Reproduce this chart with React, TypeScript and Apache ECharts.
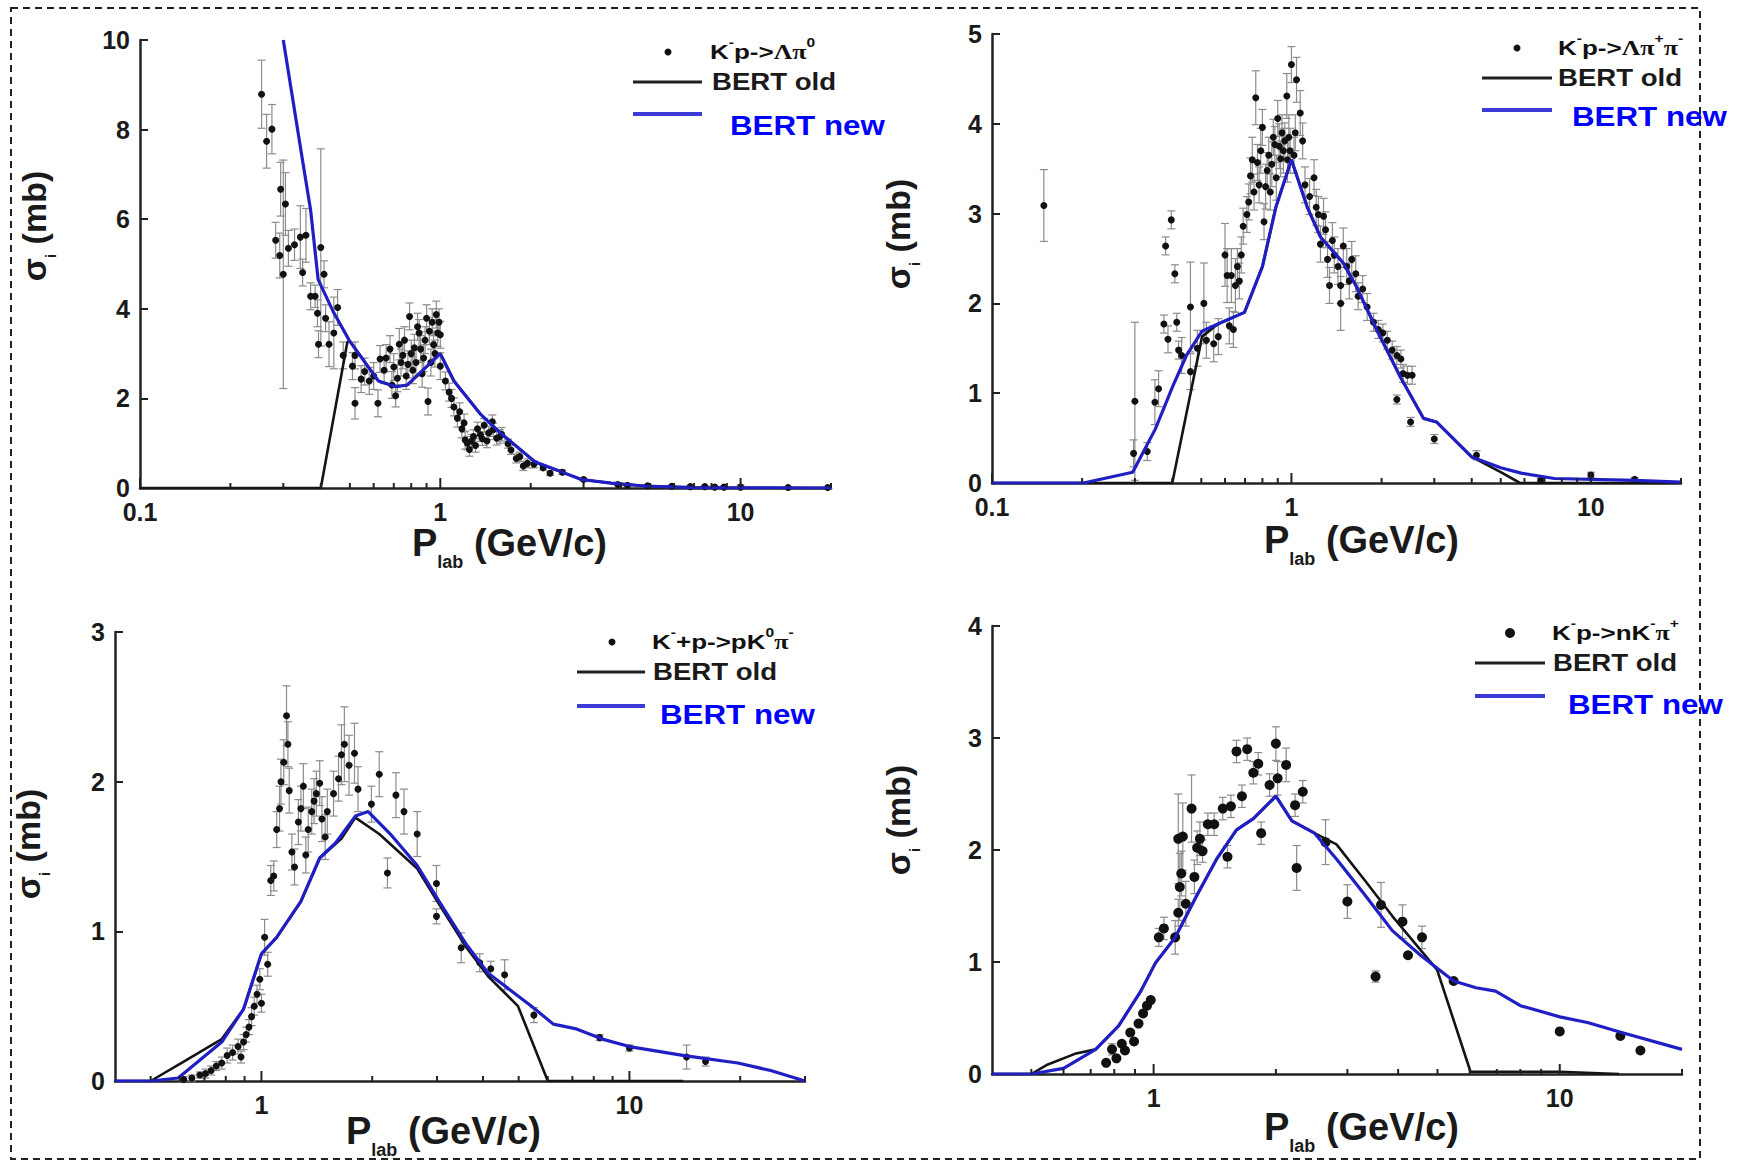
import React, { useEffect, useRef } from 'react';
import * as echarts from 'echarts';

// ---------- Panel 1: K- p -> Lambda pi0 ----------
const P1_POINTS: number[][] = [
  [0.254, 8.79, 0.76], [0.264, 7.74, 0.6], [0.275, 8.01, 0.55], [0.294, 6.67, 0.6], [0.305, 6.34, 0.7],
  [0.283, 5.53, 0.4], [0.292, 5.19, 0.5], [0.300, 4.77, 2.55], [0.312, 5.35, 0.4], [0.327, 5.43, 0.35],
  [0.342, 5.60, 0.7], [0.357, 5.64, 0.6], [0.348, 4.81, 0.3], [0.370, 4.28, 0.3], [0.383, 4.28, 0.25],
  [0.400, 5.37, 2.2], [0.410, 4.77, 0.3], [0.393, 3.21, 0.3], [0.426, 3.21, 0.5], [0.390, 3.90, 0.3],
  [0.415, 3.79, 0.3], [0.442, 3.46, 0.8], [0.455, 4.03, 0.4], [0.475, 2.96, 0.3], [0.520, 2.96, 0.3],
  [0.510, 2.72, 0.3], [0.520, 1.89, 0.35], [0.545, 2.43, 0.3], [0.560, 2.60, 0.3], [0.580, 2.39, 0.3],
  [0.600, 2.50, 0.3], [0.620, 1.89, 0.3], [0.630, 2.88, 0.3], [0.650, 2.63, 0.3], [0.660, 2.90, 0.3],
  [0.680, 3.10, 0.3], [0.690, 2.30, 0.3], [0.700, 2.70, 0.3], [0.710, 2.06, 0.25], [0.720, 2.45, 0.3],
  [0.730, 3.21, 0.35], [0.740, 2.80, 0.3], [0.750, 2.96, 0.3], [0.760, 3.30, 0.3], [0.770, 2.50, 0.3],
  [0.780, 2.76, 0.3], [0.790, 3.83, 0.3], [0.800, 3.00, 0.3], [0.810, 2.63, 0.3], [0.820, 3.13, 0.3],
  [0.830, 2.80, 0.3], [0.840, 3.60, 0.3], [0.850, 3.46, 0.3], [0.860, 3.10, 0.3], [0.870, 2.55, 0.3],
  [0.880, 2.90, 0.3], [0.890, 3.30, 0.3], [0.900, 3.79, 0.3], [0.910, 1.93, 0.3], [0.920, 3.50, 0.3],
  [0.930, 2.80, 0.3], [0.940, 3.70, 0.3], [0.950, 3.20, 0.3], [0.960, 3.00, 0.3], [0.970, 3.87, 0.3],
  [0.980, 3.46, 0.3], [0.990, 3.70, 0.3], [1.00, 3.42, 0.3], [1.00, 2.72, 0.3], [1.04, 2.39, 0.2],
  [1.07, 2.14, 0.2], [1.09, 2.00, 0.2], [1.11, 1.81, 0.2], [1.14, 1.56, 0.2], [1.16, 1.70, 0.2],
  [1.18, 1.32, 0.2], [1.20, 1.45, 0.2], [1.21, 1.07, 0.2], [1.23, 1.00, 0.15], [1.25, 0.86, 0.15],
  [1.27, 1.05, 0.15], [1.29, 1.15, 0.15], [1.31, 0.95, 0.15], [1.33, 1.32, 0.15], [1.36, 1.19, 0.15],
  [1.38, 1.10, 0.15], [1.40, 1.40, 0.15], [1.43, 1.05, 0.15], [1.45, 1.23, 0.15], [1.49, 1.48, 0.15],
  [1.50, 1.30, 0.15], [1.54, 1.11, 0.15], [1.58, 1.15, 0.15], [1.60, 1.20, 0.15], [1.68, 0.99, 0.1],
  [1.72, 0.85, 0.1], [1.79, 0.66, 0.1], [1.84, 0.70, 0.1], [1.89, 0.49, 0.1], [1.95, 0.55, 0.1],
  [2.05, 0.53, 0.08], [2.20, 0.45, 0.05], [2.32, 0.33, 0.05], [2.55, 0.35, 0.05], [3.0, 0.19, 0.03],
  [3.9, 0.08, 0.02], [4.2, 0.06, 0.02], [4.9, 0.05, 0.02], [5.9, 0.04, 0.02], [6.8, 0.03, 0.02],
  [7.6, 0.03, 0.02], [8.2, 0.02, 0.02], [8.8, 0.02, 0.02], [10.0, 0.02, 0.05], [14.4, 0.01, 0.01],
  [19.5, 0.01, 0.01],
];
const P1_OLD: number[][] = [
  [0.1, 0], [0.40, 0], [0.49, 3.25], [0.498, 3.29], [0.622, 2.39], [0.711, 2.26], [0.777, 2.30],
  [1.0, 3.0], [1.11, 2.39], [1.36, 1.65], [1.585, 1.23], [2.07, 0.58], [2.53, 0.36], [2.95, 0.19],
  [3.7, 0.11], [4.8, 0.045], [7.0, 0.01], [20, 0],
];
const P1_NEW: number[][] = [
  [0.30, 10.0], [0.348, 7.3], [0.37, 6.2], [0.392, 4.65], [0.442, 3.91], [0.498, 3.29], [0.622, 2.39],
  [0.711, 2.26], [0.777, 2.30], [1.0, 3.0], [1.11, 2.39], [1.36, 1.65], [1.585, 1.23], [2.07, 0.58],
  [2.53, 0.36], [2.95, 0.19], [3.7, 0.11], [4.8, 0.045], [7.0, 0.01], [20, 0.0],
];

// ---------- Panel 2: K- p -> Lambda pi+ pi- ----------
const P2_POINTS: number[][] = [
  [0.149, 3.09, 0.4], [0.297, 0.33, 0.15], [0.300, 0.91, 0.88], [0.330, 0.35, 0.1], [0.350, 0.90, 0.25],
  [0.360, 1.05, 0.2], [0.375, 1.77, 0.1], [0.387, 1.60, 0.15], [0.380, 2.64, 0.1], [0.397, 2.93, 0.1],
  [0.408, 2.33, 0.1], [0.420, 1.48, 0.1], [0.430, 1.42, 0.2], [0.414, 1.79, 0.1], [0.460, 1.96, 0.5],
  [0.460, 1.24, 0.2], [0.485, 1.50, 0.2], [0.510, 2.00, 0.45], [0.520, 1.59, 0.2], [0.550, 1.55, 0.2],
  [0.570, 1.63, 0.2], [0.600, 2.54, 0.35], [0.610, 2.31, 0.3], [0.620, 1.75, 0.2], [0.630, 2.31, 0.3],
  [0.640, 1.71, 0.2], [0.650, 2.20, 0.3], [0.660, 2.41, 0.2], [0.670, 2.25, 0.2], [0.680, 2.54, 0.2],
  [0.690, 2.86, 0.2], [0.710, 2.99, 0.2], [0.720, 3.13, 0.2], [0.730, 3.42, 0.2], [0.740, 3.60, 0.25],
  [0.750, 3.24, 0.2], [0.760, 4.29, 0.3], [0.770, 3.57, 0.2], [0.780, 3.32, 0.2], [0.790, 3.70, 0.25],
  [0.800, 3.96, 0.2], [0.810, 2.91, 0.2], [0.820, 3.30, 0.25], [0.830, 3.48, 0.2], [0.840, 3.65, 0.2],
  [0.850, 3.24, 0.2], [0.860, 3.55, 0.25], [0.870, 3.85, 0.2], [0.880, 3.77, 0.2], [0.890, 3.40, 0.25],
  [0.900, 4.06, 0.2], [0.910, 3.75, 0.25], [0.920, 3.61, 0.2], [0.930, 3.90, 0.2], [0.940, 3.70, 0.25],
  [0.950, 3.81, 0.2], [0.965, 4.31, 0.25], [0.970, 3.60, 0.25], [0.980, 3.85, 0.25], [0.990, 3.70, 0.25],
  [1.00, 4.66, 0.2], [1.02, 3.65, 0.2], [1.03, 3.90, 0.2], [1.04, 4.49, 0.25], [1.07, 4.12, 0.25],
  [1.09, 3.81, 0.2], [1.11, 3.32, 0.2], [1.15, 3.19, 0.2], [1.19, 3.40, 0.2], [1.21, 3.07, 0.2],
  [1.23, 2.99, 0.2], [1.25, 2.66, 0.2], [1.28, 2.97, 0.2], [1.30, 2.82, 0.2], [1.32, 2.49, 0.2],
  [1.34, 2.20, 0.2], [1.37, 2.70, 0.2], [1.39, 2.54, 0.2], [1.43, 2.41, 0.2], [1.46, 2.20, 0.2],
  [1.46, 2.00, 0.3], [1.49, 2.64, 0.2], [1.53, 2.41, 0.2], [1.56, 2.25, 0.2], [1.59, 2.49, 0.2],
  [1.64, 2.33, 0.2], [1.67, 2.08, 0.15], [1.73, 2.16, 0.15], [1.79, 1.96, 0.15], [1.88, 1.79, 0.1],
  [1.95, 1.71, 0.1], [2.02, 1.67, 0.1], [2.09, 1.59, 0.1], [2.17, 1.48, 0.1], [2.25, 1.42, 0.1],
  [2.32, 1.38, 0.1], [2.36, 1.22, 0.1], [2.44, 1.20, 0.1], [2.53, 1.20, 0.1], [2.25, 0.93, 0.05],
  [2.50, 0.68, 0.05], [3.00, 0.49, 0.05], [4.15, 0.31, 0.05], [6.8, 0.03, 0.02], [10.0, 0.09, 0.03],
  [14.0, 0.04, 0.02],
];
const P2_OLD: number[][] = [
  [0.1, 0], [0.40, 0], [0.503, 1.63], [0.568, 1.77], [0.697, 1.9], [0.8, 2.41], [0.887, 3.07],
  [1.0, 3.6], [1.13, 3.07], [1.25, 2.74], [1.49, 2.45], [1.64, 2.2], [1.95, 1.67], [2.32, 1.17],
  [2.76, 0.72], [3.05, 0.68], [4.0, 0.29], [5.0, 0.12], [5.8, 0], [20, 0],
];
const P2_NEW: number[][] = [
  [0.1, 0], [0.202, 0], [0.295, 0.12], [0.351, 0.6], [0.403, 1.09], [0.446, 1.42], [0.503, 1.69],
  [0.568, 1.77], [0.697, 1.9], [0.8, 2.41], [0.887, 3.07], [1.0, 3.6], [1.13, 3.07], [1.25, 2.74],
  [1.49, 2.45], [1.64, 2.2], [1.95, 1.67], [2.32, 1.17], [2.76, 0.72], [3.05, 0.68], [4.0, 0.29],
  [5.0, 0.17], [5.85, 0.11], [7.55, 0.05], [14, 0.03], [20, 0.01],
];

// ---------- Panel 3: K- + p -> p K0 pi- ----------
const P3_POINTS: number[][] = [
  [0.615, 0.01, 0.02], [0.647, 0.02, 0.02], [0.68, 0.04, 0.02], [0.705, 0.05, 0.03], [0.73, 0.07, 0.03],
  [0.754, 0.10, 0.03], [0.78, 0.12, 0.04], [0.807, 0.17, 0.05], [0.835, 0.19, 0.05], [0.864, 0.23, 0.05],
  [0.88, 0.16, 0.04], [0.894, 0.26, 0.05], [0.909, 0.31, 0.05], [0.925, 0.36, 0.05], [0.94, 0.43, 0.06],
  [0.956, 0.50, 0.06], [0.973, 0.58, 0.06], [0.99, 0.68, 0.07], [1.0, 0.52, 0.06], [1.02, 0.96, 0.12],
  [1.04, 0.78, 0.08], [1.06, 1.34, 0.1], [1.08, 1.37, 0.1], [1.10, 1.68, 0.12], [1.12, 1.82, 0.15],
  [1.13, 2.0, 0.15], [1.15, 2.13, 0.15], [1.17, 2.44, 0.2], [1.18, 2.25, 0.15], [1.19, 1.94, 0.15],
  [1.21, 1.53, 0.12], [1.23, 1.43, 0.12], [1.26, 1.73, 0.15], [1.28, 1.82, 0.15], [1.30, 1.97, 0.15],
  [1.32, 1.51, 0.12], [1.34, 1.68, 0.15], [1.37, 1.80, 0.15], [1.39, 1.87, 0.15], [1.41, 1.92, 0.15],
  [1.44, 1.99, 0.15], [1.46, 1.75, 0.15], [1.49, 1.63, 0.15], [1.51, 1.80, 0.15], [1.57, 1.92, 0.15],
  [1.62, 2.02, 0.15], [1.65, 2.18, 0.2], [1.68, 2.25, 0.25], [1.73, 2.11, 0.2], [1.79, 2.19, 0.2],
  [1.83, 1.95, 0.15], [1.99, 1.85, 0.12], [2.09, 2.05, 0.15], [2.20, 1.39, 0.1], [2.32, 1.91, 0.15],
  [2.44, 1.80, 0.15], [2.65, 1.65, 0.15], [2.99, 1.32, 0.12], [2.99, 1.10, 0.05], [3.49, 0.89, 0.1],
  [3.92, 0.79, 0.06], [4.20, 0.75, 0.05], [4.58, 0.71, 0.1], [5.50, 0.44, 0.05], [8.30, 0.29, 0.02],
  [10.0, 0.22, 0.02], [14.3, 0.16, 0.08], [16.1, 0.13, 0.03],
];
const P3_OLD: number[][] = [
  [0.4, 0], [0.5, 0], [0.615, 0.13], [0.78, 0.28], [0.894, 0.48], [1.0, 0.85], [1.1, 0.96],
  [1.28, 1.2], [1.44, 1.49], [1.6, 1.59], [1.65, 1.62], [1.8, 1.76], [2.09, 1.65], [2.65, 1.42],
  [3.04, 1.18], [3.61, 0.89], [4.13, 0.7], [4.98, 0.5], [6.0, 0], [14, 0],
];
const P3_NEW: number[][] = [
  [0.4, 0], [0.5, 0], [0.594, 0.02], [0.78, 0.26], [0.894, 0.48], [1.0, 0.85], [1.1, 0.96],
  [1.28, 1.2], [1.44, 1.49], [1.59, 1.59], [1.8, 1.77], [1.95, 1.8], [2.24, 1.65], [2.65, 1.44],
  [3.04, 1.2], [3.61, 0.91], [4.13, 0.72], [4.73, 0.61], [5.42, 0.5], [6.21, 0.38], [7.12, 0.35],
  [8.44, 0.28], [10, 0.23], [14.1, 0.17], [19.7, 0.12], [24.2, 0.07], [30, 0],
];

// ---------- Panel 4: K- p -> n K- pi+ ----------
const P4_POINTS: number[][] = [
  [0.764, 0.10, 0], [0.79, 0.22, 0.05], [0.81, 0.14, 0], [0.835, 0.27, 0], [0.85, 0.21, 0],
  [0.876, 0.37, 0], [0.895, 0.29, 0], [0.918, 0.45, 0], [0.942, 0.54, 0], [0.963, 0.61, 0],
  [0.984, 0.66, 0], [1.03, 1.22, 0.08], [1.06, 1.30, 0.1], [1.13, 1.22, 0.15], [1.15, 1.44, 0.12],
  [1.15, 2.10, 0.4], [1.16, 1.67, 0.3], [1.17, 1.79, 0.2], [1.18, 2.12, 0.3], [1.20, 1.52, 0.2],
  [1.24, 2.37, 0.3], [1.26, 1.76, 0.15], [1.28, 2.02, 0.15], [1.30, 2.10, 0.15], [1.32, 1.99, 0.1],
  [1.36, 2.23, 0.1], [1.41, 2.23, 0.1], [1.48, 2.37, 0.1], [1.52, 1.94, 0.1], [1.55, 2.39, 0.1],
  [1.60, 2.88, 0.1], [1.65, 2.48, 0.1], [1.70, 2.90, 0.1], [1.76, 2.69, 0.1], [1.81, 2.77, 0.1],
  [1.84, 2.15, 0.1], [1.93, 2.58, 0.1], [2.00, 2.95, 0.15], [2.02, 2.64, 0.15], [2.12, 2.76, 0.15],
  [2.23, 2.40, 0.1], [2.33, 2.52, 0.1], [2.25, 1.84, 0.2], [2.65, 2.07, 0.2], [3.00, 1.54, 0.15],
  [3.52, 0.87, 0.05], [3.63, 1.51, 0.2], [4.10, 1.36, 0.15], [4.23, 1.06, 0], [4.58, 1.22, 0.1],
  [5.48, 0.83, 0], [10.0, 0.38, 0], [14.1, 0.34, 0], [15.8, 0.21, 0],
];
const P4_OLD: number[][] = [
  [0.4, 0], [0.5, 0], [0.545, 0.08], [0.64, 0.18], [0.72, 0.22], [0.82, 0.43], [0.93, 0.74],
  [1.01, 0.99], [1.13, 1.22], [1.28, 1.6], [1.43, 1.92], [1.6, 2.18], [1.76, 2.28], [2.0, 2.48],
  [2.19, 2.26], [2.49, 2.15], [2.82, 2.05], [3.31, 1.73], [3.87, 1.41], [4.99, 0.93], [6.03, 0.02],
  [10, 0.02], [14, 0],
];
const P4_NEW: number[][] = [
  [0.4, 0], [0.5, 0], [0.6, 0.05], [0.72, 0.22], [0.82, 0.43], [0.93, 0.74], [1.01, 0.99],
  [1.13, 1.22], [1.28, 1.6], [1.43, 1.92], [1.6, 2.18], [1.76, 2.28], [2.0, 2.48], [2.19, 2.26],
  [2.49, 2.15], [2.82, 1.92], [3.31, 1.6], [3.87, 1.28], [4.54, 1.06], [5.48, 0.83], [6.22, 0.77],
  [6.95, 0.74], [8.0, 0.61], [10, 0.51], [11.7, 0.46], [14.2, 0.37], [20, 0.22],
];

// ---------- Axis ticks ----------
const MAJOR_TICKS_A = [0.1, 1, 10];
const MINOR_TICKS_A = [0.2, 0.3, 0.4, 0.5, 0.6, 0.7, 0.8, 0.9, 2, 3, 4, 5, 6, 7, 8, 9, 20];
const MAJOR_TICKS_B = [1, 10];
const MINOR_TICKS_B = [0.5, 0.6, 0.7, 0.8, 0.9, 2, 3, 4, 5, 6, 7, 8, 9, 20, 30];
const MINOR_TICKS_C = [0.5, 0.6, 0.7, 0.8, 0.9, 2, 3, 4, 5, 6, 7, 8, 9, 20];

// ---------- Legend labels ----------
const LABEL_1 = '{t|K}{u|-}{t|p->}{g|Λπ}{u|0}';
const LABEL_2 = '{t|K}{u|-}{t|p->}{g|Λπ}{u|+}{g|π}{u|-}';
const LABEL_3 = '{t|K}{u|-}{t|+p->pK}{u|0}{g|π}{u|-}';
const LABEL_4 = '{t|K}{u|-}{t|p->nK}{u|-}{g|π}{u|+}';

const FONT = 'Liberation Sans, Arial, sans-serif';
const BLUE = '#1f1fc4';
const INK = '#111111';

type Panel = {
  box: number[]; xMin: number; xMax: number; yMax: number; yInt: number;
  points: number[][]; old: number[][]; neu: number[][]; majors: number[]; minors: number[];
  dotSize: number;
  legend: { dot: number[]; dotR: number; label: string; lx: number; lineX: number[]; oldY: number; oldX: number; newY: number; newX: number; newTextY: number };
  xTitle: number[]; yTitle: number[];
};

const PANELS: Panel[] = [
  {
    box: [140, 40, 691, 448], xMin: 0.1, xMax: 20, yMax: 10, yInt: 2,
    points: P1_POINTS, old: P1_OLD, neu: P1_NEW, majors: MAJOR_TICKS_A, minors: MINOR_TICKS_A, dotSize: 7,
    legend: { dot: [668, 52], dotR: 3.5, label: LABEL_1, lx: 710, lineX: [633, 702], oldY: 82, oldX: 712, newY: 114, newX: 730, newTextY: 126 },
    xTitle: [412, 543], yTitle: [34, 226],
  },
  {
    box: [992, 34, 689, 449], xMin: 0.1, xMax: 20, yMax: 5, yInt: 1,
    points: P2_POINTS, old: P2_OLD, neu: P2_NEW, majors: MAJOR_TICKS_A, minors: MINOR_TICKS_A, dotSize: 7,
    legend: { dot: [1517, 48], dotR: 3.5, label: LABEL_2, lx: 1558, lineX: [1482, 1552], oldY: 78, oldX: 1558, newY: 110, newX: 1572, newTextY: 117 },
    xTitle: [1264, 540], yTitle: [898, 234],
  },
  {
    box: [115, 632, 690, 449], xMin: 0.4, xMax: 30, yMax: 3, yInt: 1,
    points: P3_POINTS, old: P3_OLD, neu: P3_NEW, majors: MAJOR_TICKS_B, minors: MINOR_TICKS_B, dotSize: 7,
    legend: { dot: [612, 642], dotR: 3.5, label: LABEL_3, lx: 652, lineX: [577, 645], oldY: 672, oldX: 653, newY: 706, newX: 660, newTextY: 715 },
    xTitle: [346, 1131], yTitle: [28, 844],
  },
  {
    box: [992, 626, 690, 448], xMin: 0.4, xMax: 20, yMax: 4, yInt: 1,
    points: P4_POINTS, old: P4_OLD, neu: P4_NEW, majors: MAJOR_TICKS_B, minors: MINOR_TICKS_C, dotSize: 10,
    legend: { dot: [1510, 633], dotR: 5, label: LABEL_4, lx: 1552, lineX: [1475, 1545], oldY: 663, oldX: 1553, newY: 696, newX: 1568, newTextY: 705 },
    xTitle: [1264, 1127], yTitle: [898, 820],
  },
];

const logLabel = (v: number) => {
  const l = Math.log10(v);
  if (Math.abs(l - Math.round(l)) > 1e-6) return '';
  const r = Math.round(l);
  return r < 0 ? Math.pow(10, r).toFixed(-r) : String(Math.round(Math.pow(10, r)));
};

const errRender = (_p: any, api: any) => {
  const x = api.value(0), y = api.value(1), e = api.value(2);
  if (!(e > 0)) return { type: 'group', children: [] };
  const top = api.coord([x, y + e]);
  const bot = api.coord([x, Math.max(y - e, 0)]);
  const c = 4;
  const st = { stroke: '#8c8c8c', lineWidth: 1.2 };
  return {
    type: 'group',
    children: [
      { type: 'line', shape: { x1: top[0], y1: top[1], x2: bot[0], y2: bot[1] }, style: st },
      { type: 'line', shape: { x1: top[0] - c, y1: top[1], x2: top[0] + c, y2: top[1] }, style: st },
      { type: 'line', shape: { x1: bot[0] - c, y1: bot[1], x2: bot[0] + c, y2: bot[1] }, style: st },
    ],
  };
};

const tickRender = (len: number) => (_p: any, api: any) => {
  const p = api.coord([api.value(0), 0]);
  return { type: 'line', shape: { x1: p[0], y1: p[1], x2: p[0], y2: p[1] - len }, style: { stroke: '#222', lineWidth: 2 } };
};

function buildGraphic(): any[] {
  const g: any[] = [];
  g.push({
    type: 'rect', shape: { x: 11, y: 8, width: 1689, height: 1151 },
    style: { fill: 'none', stroke: '#222', lineWidth: 2, lineDash: [7, 5] }, silent: true,
  });
  PANELS.forEach((p) => {
    const L = p.legend;
    g.push({ type: 'circle', shape: { cx: L.dot[0], cy: L.dot[1], r: L.dotR }, style: { fill: INK } });
    g.push({
      type: 'text', x: L.lx, y: L.dot[1], scaleX: 1.3,
      style: {
        text: L.label, x: 0, y: 0, align: 'left', verticalAlign: 'middle',
        rich: {
          t: { fontFamily: FONT, fontWeight: 'bold', fontSize: 20, fill: INK, lineHeight: 30, verticalAlign: 'middle' },
          g: { fontFamily: 'Liberation Serif, serif', fontWeight: 'bold', fontSize: 20, fill: INK, lineHeight: 30, verticalAlign: 'middle' },
          u: { fontFamily: FONT, fontWeight: 'bold', fontSize: 12, fill: INK, lineHeight: 12, verticalAlign: 'top' },
        },
      },
    });
    g.push({ type: 'line', shape: { x1: L.lineX[0], y1: L.oldY, x2: L.lineX[1], y2: L.oldY }, style: { stroke: '#202020', lineWidth: 3 } });
    g.push({
      type: 'text', x: L.oldX, y: L.oldY, scaleX: 1.2,
      style: { text: 'BERT old', x: 0, y: 0, align: 'left', verticalAlign: 'middle', fontFamily: FONT, fontWeight: 'bold', fontSize: 23, fill: '#1a1a1a' },
    });
    g.push({ type: 'line', shape: { x1: L.lineX[0], y1: L.newY, x2: L.lineX[1], y2: L.newY }, style: { stroke: '#3b3bd8', lineWidth: 4 } });
    g.push({
      type: 'text', x: L.newX, y: L.newTextY, scaleX: 1.16,
      style: { text: 'BERT new', x: 0, y: 0, align: 'left', verticalAlign: 'middle', fontFamily: FONT, fontWeight: 'bold', fontSize: 27, fill: '#0000ff' },
    });
    // x title
    g.push({
      type: 'text', x: p.xTitle[0], y: p.xTitle[1],
      style: {
        text: '{p|P}{s|lab}{p| (GeV/c)}', x: 0, y: 0, align: 'left', verticalAlign: 'middle',
        rich: {
          p: { fontFamily: FONT, fontWeight: 'bold', fontSize: 38, fill: '#1a1a1a', lineHeight: 56, verticalAlign: 'middle' },
          s: { fontFamily: FONT, fontWeight: 'bold', fontSize: 18, fill: '#1a1a1a', lineHeight: 18, verticalAlign: 'bottom' },
        },
      },
    });
    // y title
    g.push({
      type: 'text', x: p.yTitle[0], y: p.yTitle[1], rotation: Math.PI / 2,
      style: {
        text: '{p|σ}{s|i}{p| (mb)}', x: 0, y: 0, align: 'center', verticalAlign: 'middle',
        rich: {
          p: { fontFamily: FONT, fontWeight: 'bold', fontSize: 34, fill: '#1a1a1a', lineHeight: 48, verticalAlign: 'middle' },
          s: { fontFamily: FONT, fontWeight: 'bold', fontSize: 15, fill: '#1a1a1a', lineHeight: 15, verticalAlign: 'bottom' },
        },
      },
    });
  });
  return g;
}

function buildOption(): any {
  const axisLine = { show: true, onZero: false, lineStyle: { color: '#222', width: 2.5 } };
  const series: any[] = [];
  PANELS.forEach((p, i) => {
    series.push({
      type: 'custom', xAxisIndex: i, yAxisIndex: i, renderItem: errRender, silent: true,
      encode: { x: 0, y: 1 }, data: p.points, z: 2,
    });
    series.push({
      type: 'scatter', xAxisIndex: i, yAxisIndex: i, data: p.points.map((d) => [d[0], d[1]]),
      symbol: 'circle', symbolSize: p.dotSize, itemStyle: { color: INK, opacity: 1 }, silent: true, z: 3,
    });
    series.push({
      type: 'line', xAxisIndex: i, yAxisIndex: i, data: p.old, showSymbol: false, symbol: 'none',
      lineStyle: { color: '#141414', width: 2.6 }, silent: true, z: 4,
    });
    series.push({
      type: 'line', xAxisIndex: i, yAxisIndex: i, data: p.neu, showSymbol: false, symbol: 'none',
      lineStyle: { color: BLUE, width: 3.2 }, silent: true, z: 5,
    });
    series.push({
      type: 'custom', xAxisIndex: i, yAxisIndex: i, renderItem: tickRender(5), silent: true,
      encode: { x: 0, y: 1 }, data: p.minors.map((v) => [v, 0]), z: 6,
    });
    series.push({
      type: 'custom', xAxisIndex: i, yAxisIndex: i, renderItem: tickRender(10), silent: true,
      encode: { x: 0, y: 1 }, data: p.majors.map((v) => [v, 0]), z: 6,
    });
  });
  return {
    animation: false,
    backgroundColor: '#ffffff',
    grid: PANELS.map((p) => ({ left: p.box[0], top: p.box[1], width: p.box[2], height: p.box[3], containLabel: false })),
    xAxis: PANELS.map((p, i) => ({
      type: 'log', logBase: 10, gridIndex: i, min: p.xMin, max: p.xMax,
      axisLine, axisTick: { show: false }, splitLine: { show: false }, minorTick: { show: false },
      axisLabel: { formatter: logLabel, fontFamily: FONT, fontWeight: 'bold', fontSize: 25, lineHeight: 22, color: '#1a1a1a', margin: 13, showMinLabel: true, showMaxLabel: true, hideOverlap: false },
    })),
    yAxis: PANELS.map((p, i) => ({
      type: 'value', gridIndex: i, min: 0, max: p.yMax, interval: p.yInt,
      axisLine, axisTick: { show: true, inside: true, length: 8, lineStyle: { color: '#222', width: 2 } },
      splitLine: { show: false },
      axisLabel: { fontFamily: FONT, fontWeight: 'bold', fontSize: 25, lineHeight: 22, color: '#1a1a1a', margin: 10 },
    })),
    series,
    graphic: buildGraphic(),
  };
}

export default function App() {
  const ref = useRef<HTMLDivElement>(null);
  useEffect(() => {
    if (!ref.current) return;
    const chart = echarts.init(ref.current, undefined, { renderer: 'svg' });
    chart.setOption(buildOption());
    return () => chart.dispose();
  }, []);
  return (
    <div
      ref={ref}
      style={{ position: 'fixed', left: 0, top: 0, width: 1738, height: 1163, background: '#fff' }}
    />
  );
}
